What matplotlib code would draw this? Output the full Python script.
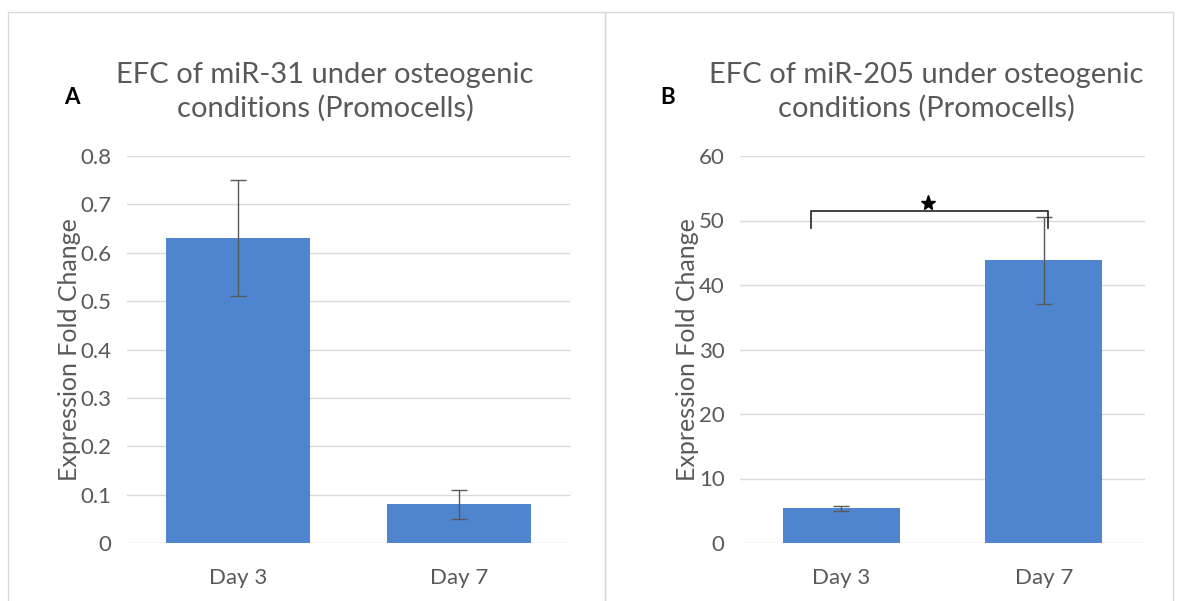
import matplotlib.pyplot as plt
from matplotlib.patches import Rectangle

days = ['Day 3', 'Day 7']
mir31 = [0.63, 0.08]
mir31_err = [0.12, 0.03]
mir205 = [5.4, 43.8]
mir205_err = [0.4, 6.8]

bar_col = '#4F84CF'
txt_col = '#595959'
grid_col = '#D9D9D9'

plt.rcParams['font.family'] = ['Lato', 'DejaVu Sans']

fig = plt.figure(figsize=(11.85, 6.01), dpi=100)

# panel frames
fig.patches.append(Rectangle((8 / 1185, -0.01), 597 / 1185, (601 - 12) / 601 + 0.01,
                             transform=fig.transFigure, fill=False, ec=grid_col, lw=1))
fig.patches.append(Rectangle((605 / 1185, -0.01), 568 / 1185, (601 - 12) / 601 + 0.01,
                             transform=fig.transFigure, fill=False, ec=grid_col, lw=1))

ax1 = fig.add_axes([127 / 1185, 58 / 601, 443 / 1185, 387 / 601])
ax2 = fig.add_axes([740 / 1185, 58 / 601, 405 / 1185, 387 / 601])


def style(ax, ymax, step, fmt):
    ax.set_ylim(0, ymax)
    ax.set_xlim(-0.5, 1.5)
    ticks = [i * step for i in range(int(round(ymax / step)) + 1)]
    ax.set_yticks(ticks)
    ax.set_yticklabels([fmt(t) for t in ticks])
    ax.yaxis.grid(True, color=grid_col, lw=1)
    ax.set_axisbelow(True)
    for s in ax.spines.values():
        s.set_visible(False)
    ax.tick_params(length=0, colors=txt_col, labelsize=16)
    ax.tick_params(axis='y', pad=11)
    ax.tick_params(axis='x', pad=18)
    ax.set_ylabel('Expression Fold Change', color=txt_col, fontsize=18, labelpad=0)


x = [0, 1]
ax1.bar(x, mir31, width=0.65, color=bar_col, zorder=2)
ax1.errorbar(x, mir31, yerr=mir31_err, fmt='none', ecolor=txt_col, elinewidth=1,
             capsize=6, capthick=1, zorder=3)
ax1.set_xticks(x)
ax1.set_xticklabels(days)
style(ax1, 0.8, 0.1, lambda t: '0' if t == 0 else f'{t:.1f}')
ax1.set_title('EFC of miR-31 under osteogenic\nconditions (Promocells)',
              color=txt_col, fontsize=21, pad=28, linespacing=1.35, x=0.447)

ax2.bar(x, mir205, width=0.58, color=bar_col, zorder=2)
ax2.errorbar(x, mir205, yerr=mir205_err, fmt='none', ecolor=txt_col, elinewidth=1,
             capsize=6, capthick=1, zorder=3)
ax2.set_xticks(x)
ax2.set_xticklabels(days)
style(ax2, 60, 10, lambda t: f'{t:.0f}')
ax2.set_title('EFC of miR-205 under osteogenic\nconditions (Promocells)',
              color=txt_col, fontsize=21, pad=28, linespacing=1.35, x=0.46)

# significance bracket
ax2.plot([-0.15, -0.15, 1.02, 1.02], [48.8, 51.5, 51.5, 48.8], color='#222222', lw=1.2, zorder=4)
ax2.plot([0.43], [52.7], marker='*', color='black', markersize=11, zorder=4)

fig.text(72 / 1185, 1 - 97 / 601, 'A', fontsize=16, fontweight='bold', ha='center', va='center')
fig.text(668 / 1185, 1 - 97 / 601, 'B', fontsize=16, fontweight='bold', ha='center', va='center')

plt.savefig('out.png', dpi=100)
